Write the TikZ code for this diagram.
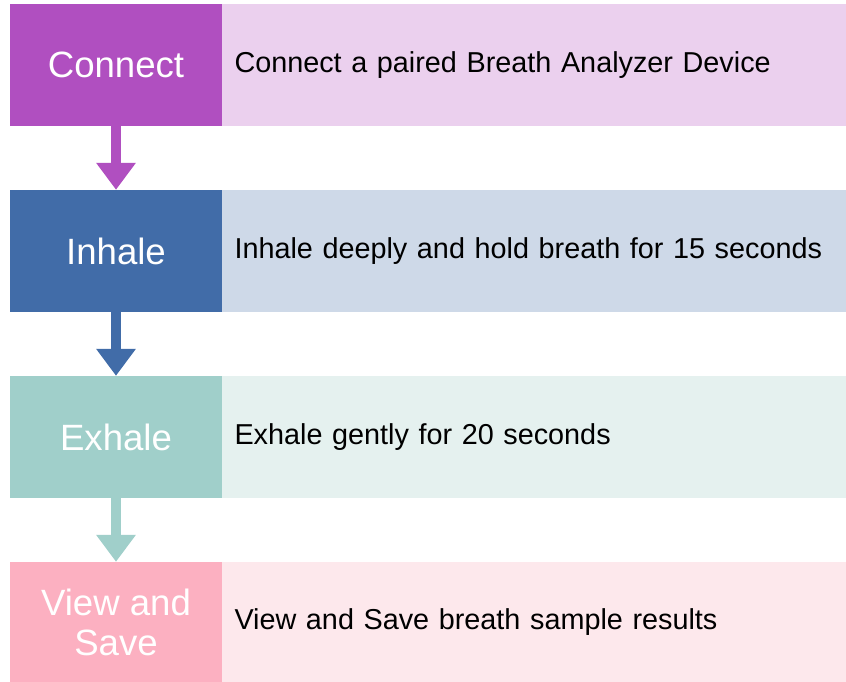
\documentclass[tikz,border=0pt]{standalone}
\usepackage{fontspec}
\setmainfont{Liberation Sans}
\usetikzlibrary{arrows.meta}
\definecolor{cA}{HTML}{B04FC0}
\definecolor{cAl}{HTML}{EBD0EE}
\definecolor{cB}{HTML}{416CA8}
\definecolor{cBl}{HTML}{CED9E8}
\definecolor{cC}{HTML}{A0CFCA}
\definecolor{cCl}{HTML}{E5F1EF}
\definecolor{cD}{HTML}{FCB0C1}
\definecolor{cDl}{HTML}{FDE8EC}
\tikzset{
  leftbox/.style={fill=#1, draw=none, minimum width=212pt, minimum height=122pt, inner sep=0pt, text=white, align=center, font=\fontsize{36.6}{40}\selectfont},
  rightbox/.style={fill=#1, draw=none, minimum width=624pt, minimum height=122pt, inner xsep=12.5pt, inner ysep=0pt, text width=599pt, align=left, text=black, font=\fontsize{28.8}{34}\selectfont},
  flowarrow/.style={draw=#1, line width=10pt, -{Triangle[width=38pt,length=27pt,fill=#1]}, shorten <=-0.5pt}
}
\begin{document}
\begin{tikzpicture}[x=1pt,y=1pt]
\useasboundingbox (0,0) rectangle (846,-682);
\fill[white] (0,0) rectangle (846,-682);
% row 1
\node[leftbox=cA] (c1) at (116,-65) {Connect};
\node[rightbox=cAl] (d1) at (534,-65) {Connect a paired Breath Analyzer Device};
% row 2
\node[leftbox=cB] (c2) at (116,-251) {Inhale};
\node[rightbox=cBl] (d2) at (534,-251) {Inhale deeply and hold breath for 15 seconds};
% row 3
\node[leftbox=cC] (c3) at (116,-437) {Exhale};
\node[rightbox=cCl] (d3) at (534,-437) {Exhale gently for 20 seconds};
% row 4
\node[leftbox=cD, minimum height=120pt] (c4) at (116,-622) {View and\\Save};
\node[rightbox=cDl, minimum height=120pt] (d4) at (534,-622) {View and Save breath sample results};
% arrows
\draw[flowarrow=cA] (c1.south) -- (c2.north);
\draw[flowarrow=cB] (c2.south) -- (c3.north);
\draw[flowarrow=cC] (c3.south) -- (c4.north);
\end{tikzpicture}
\end{document}
